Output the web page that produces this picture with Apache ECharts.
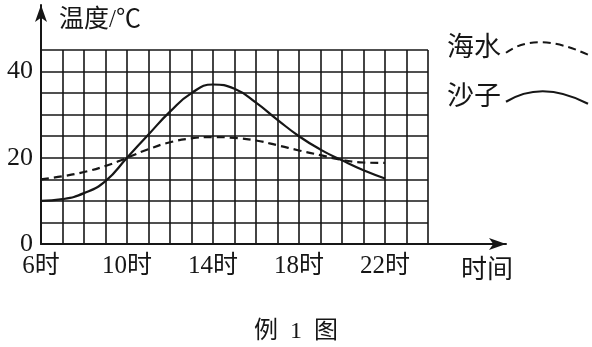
<!DOCTYPE html>
<html>
<head>
<meta charset="utf-8">
<script src="https://cdn.jsdelivr.net/npm/echarts@6/dist/echarts.min.js"></script>
<style>html,body{margin:0;padding:0;background:#fff}#c{width:592px;height:347px}</style>
</head>
<body>
<div id="c"></div>
<script>
// Data
var hours = [6, 7, 8, 9, 10, 11, 12, 13, 14, 15, 16, 17, 18, 19, 20, 21, 22];
var sandTemps = [10, 10.4, 11.8, 14.6, 20, 25.4, 30.7, 35, 37, 36, 32.8, 28.8, 25, 21.9, 19.4, 17.1, 15.2];
var seaTemps = [15, 15.7, 16.7, 18.1, 20, 22, 23.6, 24.5, 24.8, 24.6, 24, 22.9, 21.7, 20.6, 19.5, 18.9, 18.8];
var xTickLabels = {6: '6时', 10: '10时', 14: '14时', 18: '18时', 22: '22时'};
var yTickLabels = {0: '0', 20: '20', 40: '40'};
var seriesNames = ['海水', '沙子'];

var FONT = "'Liberation Serif', 'Noto Sans CJK SC', serif";
var INK = '#161616';

function pairs(xs, ys) { return xs.map(function (x, i) { return [x, ys[i]]; }); }

var chart = echarts.init(document.getElementById('c'), null, {renderer: 'canvas'});
chart.setOption({
  animation: false,
  backgroundColor: '#fff',
  title: [
    {text: '温度/℃', left: 54, top: 3, textStyle: {fontFamily: FONT, fontSize: 25, fontWeight: 'normal', color: INK}},
    {text: '时间', left: 456, top: 253, textStyle: {fontFamily: FONT, fontSize: 26, fontWeight: 'normal', color: INK}},
    {text: '例  1  图', left: 'center', top: 315, textStyle: {fontFamily: FONT, fontSize: 24, fontWeight: 'normal', color: INK}}
  ],
  legend: {
    orient: 'vertical', left: 442, top: 30, itemGap: 22, align: 'right',
    itemWidth: 82, itemHeight: 16,
    textStyle: {fontFamily: FONT, fontSize: 27, color: INK, padding: [0, 0, 0, 0]},
    data: [
      {name: seriesNames[0], icon: 'path://M0 14Q30 -8 82 16',
       itemStyle: {color: 'none', borderColor: INK, borderWidth: 2, borderType: [8, 5]}},
      {name: seriesNames[1], icon: 'path://M0 14Q36 -8 82 16',
       itemStyle: {color: 'none', borderColor: INK, borderWidth: 2.2, borderType: 'solid'}}
    ]
  },
  grid: [
    {left: 41, right: 164, top: 50, bottom: 103, containLabel: false},
    {left: 41, right: 86, top: 5, bottom: 103, containLabel: false}
  ],
  xAxis: [
    {
      type: 'value', gridIndex: 0, min: 6, max: 24, interval: 1,
      axisLine: {show: false}, axisTick: {show: false},
      splitLine: {show: true, lineStyle: {color: INK, width: 1.6}},
      axisLabel: {
        margin: 10, fontFamily: FONT, fontSize: 25, color: INK,
        formatter: function (v) { return xTickLabels[v] || ''; }
      }
    },
    {
      type: 'value', gridIndex: 1, min: 0, max: 1,
      axisLine: {show: true, onZero: false, symbol: ['none', 'arrow'], symbolSize: [9, 17], lineStyle: {color: INK, width: 2}},
      axisTick: {show: false}, axisLabel: {show: false}, splitLine: {show: false}
    }
  ],
  yAxis: [
    {
      type: 'value', gridIndex: 0, min: 0, max: 45, interval: 5,
      axisLine: {show: false}, axisTick: {show: false},
      splitLine: {show: true, lineStyle: {color: INK, width: 1.6}},
      axisLabel: {
        margin: 8, fontFamily: FONT, fontSize: 26, color: INK,
        formatter: function (v) { return yTickLabels[v] !== undefined ? yTickLabels[v] : ''; }
      }
    },
    {
      type: 'value', gridIndex: 1, min: 0, max: 1,
      axisLine: {show: true, onZero: false, symbol: ['none', 'arrow'], symbolSize: [9, 17], lineStyle: {color: INK, width: 2}},
      axisTick: {show: false}, axisLabel: {show: false}, splitLine: {show: false}
    }
  ],
  series: [
    {
      name: seriesNames[0], type: 'line', xAxisIndex: 0, yAxisIndex: 0,
      data: pairs(hours, seaTemps), smooth: 0.5, showSymbol: false,
      lineStyle: {color: INK, width: 2.2, type: [8, 5]}, itemStyle: {color: INK}, z: 5
    },
    {
      name: seriesNames[1], type: 'line', xAxisIndex: 0, yAxisIndex: 0,
      data: pairs(hours, sandTemps), smooth: 0.5, showSymbol: false,
      lineStyle: {color: INK, width: 2.2, type: 'solid'}, itemStyle: {color: INK}, z: 5
    }
  ]
});
</script>
</body>
</html>
